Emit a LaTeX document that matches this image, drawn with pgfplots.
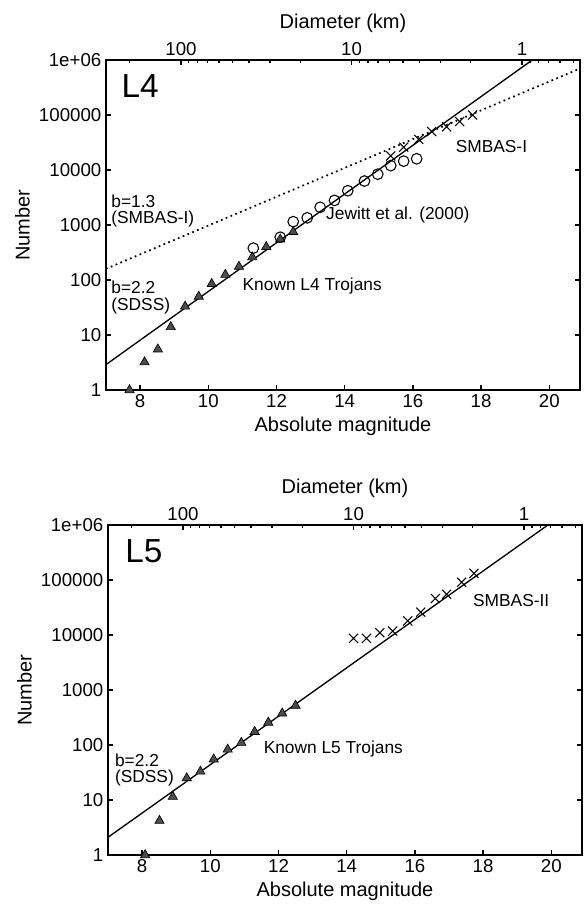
\documentclass[border=0pt]{standalone}
\usepackage{pgfplots}
\pgfplotsset{compat=1.18}
\usepackage{fontspec}
\setmainfont{Liberation Sans}
\newcommand\fs[1]{\fontsize{#1}{#1}\selectfont}

\pgfplotsset{
  tri/.style={only marks, mark=triangle*, mark size=4pt, mark options={fill=black!70, draw=black, line width=0.5pt}},
  circ/.style={only marks, mark=o, mark size=4pt, mark options={line width=0.8pt, draw=black}},
  crs/.style={only marks, mark=x, mark size=4.8pt, mark options={line width=0.8pt, draw=black}},
}
\tikzset{ann/.style={font=\fs{13pt}, anchor=west, inner sep=0pt}}

\newcommand\diamaxis[1]{%
\begin{axis}[scale only axis, width=355.5pt, height=247.5pt,
    at={#1}, anchor=south west,
    xmin=7, xmax=20.9, ymin=0, ymax=1,
    axis x line*=top, hide y axis,
    axis line style={-, line width=1.6pt},
    tick align=inside, major tick length=4pt, minor tick length=2.5pt,
    tick style={line width=1pt, black},
    xtick={9.2,14.2,19.2}, xticklabels={100,10,1},
    minor xtick={7.695,9.429,9.685,9.974,10.309,10.705,11.190,11.814,12.695,14.429,14.685,14.974,15.309,15.705,16.190,16.814,17.695,19.429,19.685,19.974,20.309,20.705},
    ticklabel style={font=\fs{14pt}},
    label style={font=\fs{15pt}},
    xlabel={Diameter (km)}]
\addplot[draw=none] coordinates {(8,0.5)};
\end{axis}}

\begin{document}
\begin{tikzpicture}
\useasboundingbox (0,0) rectangle (437.25pt,-681pt);

% ---------- L4 ----------
\diamaxis{(79.5pt,-292.5pt)}
\begin{axis}[scale only axis, width=355.5pt, height=247.5pt,
    at={(79.5pt,-292.5pt)}, anchor=south west,
    ymode=log, xmin=7, xmax=20.9, ymin=1, ymax=1e6,
    xtick={8,10,12,14,16,18,20}, xticklabels={8,10,12,14,16,18,20},
    ytick={1,10,100,1000,10000,100000,1000000},
    yticklabels={1,10,100,1000,10000,100000,1e+06},
    yminorticks=false, xminorticks=false,
    xtick pos=bottom, ytick pos=both,
    tick align=inside, major tick length=4pt,
    axis line style={line width=1.6pt},
    tick style={line width=1pt, black},
    ticklabel style={font=\fs{14pt}},
    label style={font=\fs{15pt}},
    xlabel={Absolute magnitude}, ylabel={Number},
    clip mode=individual]
\addplot[black, line width=1pt] coordinates {(7,2.9) (19.5,1e6)};
\addplot[black, line width=1.3pt, dash pattern=on 1.3pt off 2.6pt] coordinates {(7,160) (20.9,7e5)};
\addplot[tri] coordinates {(7.69,1) (8.13,3.2) (8.52,5.5) (8.90,14) (9.32,33) (9.72,50) (10.10,85) (10.50,125) (10.90,175) (11.29,260) (11.70,400) (12.11,550) (12.49,750)};
\addplot[circ] coordinates {(11.32,380) (12.11,600) (12.49,1150) (12.9,1350) (13.28,2100) (13.7,2800) (14.09,4200) (14.58,6300) (14.97,8400) (15.35,12000) (15.73,14500) (16.11,16000)};
\addplot[crs] coordinates {(15.35,18000) (15.73,26000) (16.17,36000) (16.55,50000) (16.99,61000) (17.37,76000) (17.75,100000)};
\node[anchor=west, inner sep=0pt, font=\fs{25pt}] at (axis cs:7.45,3.4e5) {L4};
\node[ann] at (axis cs:17.25,27000) {SMBAS-I};
\node[ann] at (axis cs:13.45,1550) {Jewitt et al. (2000)};
\node[ann] at (axis cs:11.0,78) {Known L4 Trojans};
\node[ann] at (axis cs:7.15,2750) {b=1.3};
\node[ann] at (axis cs:7.15,1260) {(SMBAS-I)};
\node[ann] at (axis cs:7.15,73) {b=2.2};
\node[ann] at (axis cs:7.15,33) {(SDSS)};
\end{axis}

% ---------- L5 ----------
\diamaxis{(81pt,-641.25pt)}
\begin{axis}[scale only axis, width=355.5pt, height=247.5pt,
    at={(81pt,-641.25pt)}, anchor=south west,
    ymode=log, xmin=7, xmax=20.9, ymin=1, ymax=1e6,
    xtick={8,10,12,14,16,18,20}, xticklabels={8,10,12,14,16,18,20},
    ytick={1,10,100,1000,10000,100000,1000000},
    yticklabels={1,10,100,1000,10000,100000,1e+06},
    yminorticks=false, xminorticks=false,
    xtick pos=bottom, ytick pos=both,
    tick align=inside, major tick length=4pt,
    axis line style={line width=1.6pt},
    tick style={line width=1pt, black},
    ticklabel style={font=\fs{14pt}},
    label style={font=\fs{15pt}},
    xlabel={Absolute magnitude}, ylabel={Number},
    clip mode=individual]
\addplot[black, line width=1pt] coordinates {(7,2.1) (19.9,1e6)};
\addplot[tri] coordinates {(8.09,1) (8.51,4.2) (8.90,11.5) (9.31,25) (9.71,33) (10.10,55) (10.51,83) (10.91,110) (11.30,174) (11.70,256) (12.11,376) (12.50,520)};
\addplot[crs] coordinates {(14.2,8700) (14.58,8700) (14.97,11000) (15.35,11800) (15.79,18000) (16.17,26000) (16.60,46000) (16.93,55000) (17.37,91000) (17.73,132000)};
\node[anchor=west, inner sep=0pt, font=\fs{25pt}] at (axis cs:7.5,3.4e5) {L5};
\node[ann] at (axis cs:17.7,42000) {SMBAS-II};
\node[ann] at (axis cs:11.56,83) {Known L5 Trojans};
\node[ann] at (axis cs:7.2,53) {b=2.2};
\node[ann] at (axis cs:7.2,24.7) {(SDSS)};
\end{axis}
\end{tikzpicture}
\end{document}
